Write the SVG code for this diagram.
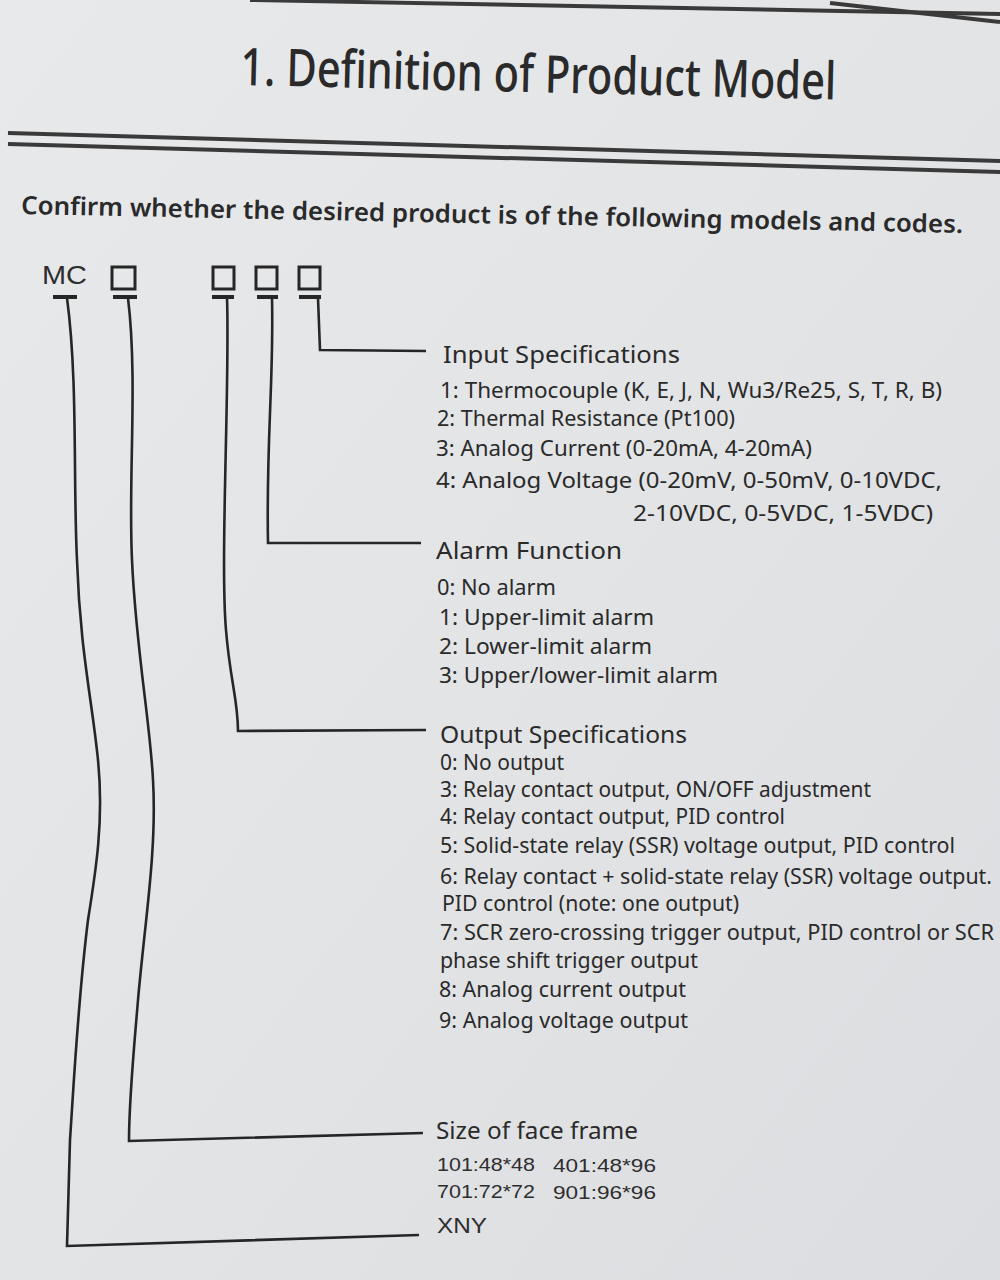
<svg xmlns="http://www.w3.org/2000/svg" width="1000" height="1280" viewBox="0 0 1000 1280">
  <defs>
    <linearGradient id="paper" x1="0" y1="0" x2="1" y2="1">
      <stop offset="0" stop-color="#e8e9eb"/>
      <stop offset="0.5" stop-color="#e3e4e6"/>
      <stop offset="1" stop-color="#dcdde0"/>
    </linearGradient>
  </defs>
  <style>
    .t { font-family: "Noto Sans", "Open Sans", sans-serif; fill: #2a2a2a; }
    .head { font-size: 24px; }
    .item { font-size: 21px; }
    .arial { font-family: "Liberation Sans", Arial, sans-serif; fill: #2e2e2e; }
    .rule { stroke: #3a3a3a; stroke-width: 4; fill: none; }
    .wire { stroke: #262626; stroke-width: 2.6; fill: none; stroke-linejoin: miter; }
    .box { stroke: #262626; stroke-width: 3; fill: none; }
    .bar { stroke: #262626; stroke-width: 4; }
  </style>

  <rect x="0" y="0" width="1000" height="1280" fill="url(#paper)"/>

  <!-- page rules -->
  <g id="rules">
    <line class="rule" x1="250" y1="0" x2="1000" y2="14"/>
    <line class="rule" x1="830" y1="3" x2="1000" y2="22"/>
    <line class="rule" x1="8" y1="133" x2="1000" y2="161"/>
    <line class="rule" x1="8" y1="144" x2="1000" y2="172"/>
  </g>

  <g id="title">
    <text class="t" x="240" y="85" font-size="52" font-weight="500" textLength="596" lengthAdjust="spacingAndGlyphs" transform="rotate(1.4 240 85)">1. Definition of Product Model</text>
  </g>

  <g id="subtitle">
    <text class="t" x="21" y="214" font-size="25" font-weight="600" textLength="942" lengthAdjust="spacingAndGlyphs" transform="rotate(1.15 21 214)">Confirm whether the desired product is of the following models and codes.</text>
  </g>

  <!-- code segments -->
  <g id="seg-mc">
    <text class="arial" x="42" y="284" font-size="25" textLength="45" lengthAdjust="spacingAndGlyphs">MC</text>
    <line class="bar" x1="53" y1="297" x2="77" y2="297"/>
  </g>
  <g id="seg-frame">
    <rect class="box" x="112" y="267" width="23" height="22"/>
    <line class="bar" x1="113" y1="297" x2="137" y2="297"/>
  </g>
  <g id="seg-output">
    <rect class="box" x="213" y="267" width="21" height="22"/>
    <line class="bar" x1="212" y1="297" x2="234" y2="297"/>
  </g>
  <g id="seg-alarm">
    <rect class="box" x="256" y="267" width="21" height="22"/>
    <line class="bar" x1="257" y1="297" x2="278" y2="297"/>
  </g>
  <g id="seg-input">
    <rect class="box" x="299" y="267" width="21" height="22"/>
    <line class="bar" x1="299" y1="297" x2="321" y2="297"/>
  </g>

  <!-- connectors -->
  <g id="connectors">
    <path class="wire" d="M318 298 L320 350 L426 351"/>
    <path class="wire" d="M272 298 C274 380 266 440 268 543 L421 543"/>
    <path class="wire" d="M227 298 C230 380 220 560 226 630 C230 680 238 700 238 731 L426 730"/>
    <path class="wire" d="M128 298 C138 380 128 480 132 560 C136 650 150 720 153 780 C157 850 145 920 138 1000 C133 1060 129 1100 129 1141 L423 1133"/>
    <path class="wire" d="M67 298 C78 380 73 480 77 560 C80 650 92 700 98 760 C104 820 96 870 88 920 C78 1000 74 1080 70 1140 L67 1246 L419 1235"/>
  </g>

  <!-- descriptions -->
  <g id="input-spec">
    <text class="t head" x="443" y="363" textLength="237" lengthAdjust="spacingAndGlyphs">Input Specifications</text>
    <text class="t item" x="440" y="398" textLength="502" lengthAdjust="spacingAndGlyphs">1: Thermocouple (K, E, J, N, Wu3/Re25, S, T, R, B)</text>
    <text class="t item" x="437" y="426" textLength="298" lengthAdjust="spacingAndGlyphs">2: Thermal Resistance (Pt100)</text>
    <text class="t item" x="436" y="456" textLength="376" lengthAdjust="spacingAndGlyphs">3: Analog Current (0-20mA, 4-20mA)</text>
    <text class="t item" x="436" y="488" textLength="506" lengthAdjust="spacingAndGlyphs">4: Analog Voltage (0-20mV, 0-50mV, 0-10VDC,</text>
    <text class="t item" x="633" y="521" textLength="300" lengthAdjust="spacingAndGlyphs">2-10VDC, 0-5VDC, 1-5VDC)</text>
  </g>

  <g id="alarm-function">
    <text class="t head" x="436" y="559" textLength="186" lengthAdjust="spacingAndGlyphs">Alarm Function</text>
    <text class="t item" x="437" y="595" textLength="119" lengthAdjust="spacingAndGlyphs">0: No alarm</text>
    <text class="t item" x="439" y="625" textLength="215" lengthAdjust="spacingAndGlyphs">1: Upper-limit alarm</text>
    <text class="t item" x="439" y="654" textLength="213" lengthAdjust="spacingAndGlyphs">2: Lower-limit alarm</text>
    <text class="t item" x="439" y="683" textLength="279" lengthAdjust="spacingAndGlyphs">3: Upper/lower-limit alarm</text>
  </g>

  <g id="output-spec">
    <text class="t head" x="440" y="743" textLength="247" lengthAdjust="spacingAndGlyphs">Output Specifications</text>
    <text class="t item" x="440" y="770" textLength="124" lengthAdjust="spacingAndGlyphs">0: No output</text>
    <text class="t item" x="440" y="797" textLength="431" lengthAdjust="spacingAndGlyphs">3: Relay contact output, ON/OFF adjustment</text>
    <text class="t item" x="440" y="824" textLength="345" lengthAdjust="spacingAndGlyphs">4: Relay contact output, PID control</text>
    <text class="t item" x="440" y="853" textLength="515" lengthAdjust="spacingAndGlyphs">5: Solid-state relay (SSR) voltage output, PID control</text>
    <text class="t item" x="440" y="884" textLength="552" lengthAdjust="spacingAndGlyphs">6: Relay contact + solid-state relay (SSR) voltage output.</text>
    <text class="t item" x="442" y="911" textLength="297" lengthAdjust="spacingAndGlyphs">PID control (note: one output)</text>
    <text class="t item" x="440" y="940" textLength="554" lengthAdjust="spacingAndGlyphs">7: SCR zero-crossing trigger output, PID control or SCR</text>
    <text class="t item" x="440" y="968" textLength="258" lengthAdjust="spacingAndGlyphs">phase shift trigger output</text>
    <text class="t item" x="439" y="997" textLength="247" lengthAdjust="spacingAndGlyphs">8: Analog current output</text>
    <text class="t item" x="439" y="1028" textLength="249" lengthAdjust="spacingAndGlyphs">9: Analog voltage output</text>
  </g>

  <g id="face-frame">
    <text class="t head" x="436" y="1139" textLength="202" lengthAdjust="spacingAndGlyphs">Size of face frame</text>
    <text class="arial" x="437" y="1171" font-size="19" textLength="98" lengthAdjust="spacingAndGlyphs">101:48*48</text>
    <text class="arial" x="553" y="1172" font-size="19" textLength="103" lengthAdjust="spacingAndGlyphs">401:48*96</text>
    <text class="arial" x="437" y="1198" font-size="19" textLength="98" lengthAdjust="spacingAndGlyphs">701:72*72</text>
    <text class="arial" x="553" y="1199" font-size="19" textLength="103" lengthAdjust="spacingAndGlyphs">901:96*96</text>
  </g>

  <g id="maker">
    <text class="arial" x="437" y="1233" font-size="22" textLength="50" lengthAdjust="spacingAndGlyphs">XNY</text>
  </g>
</svg>
